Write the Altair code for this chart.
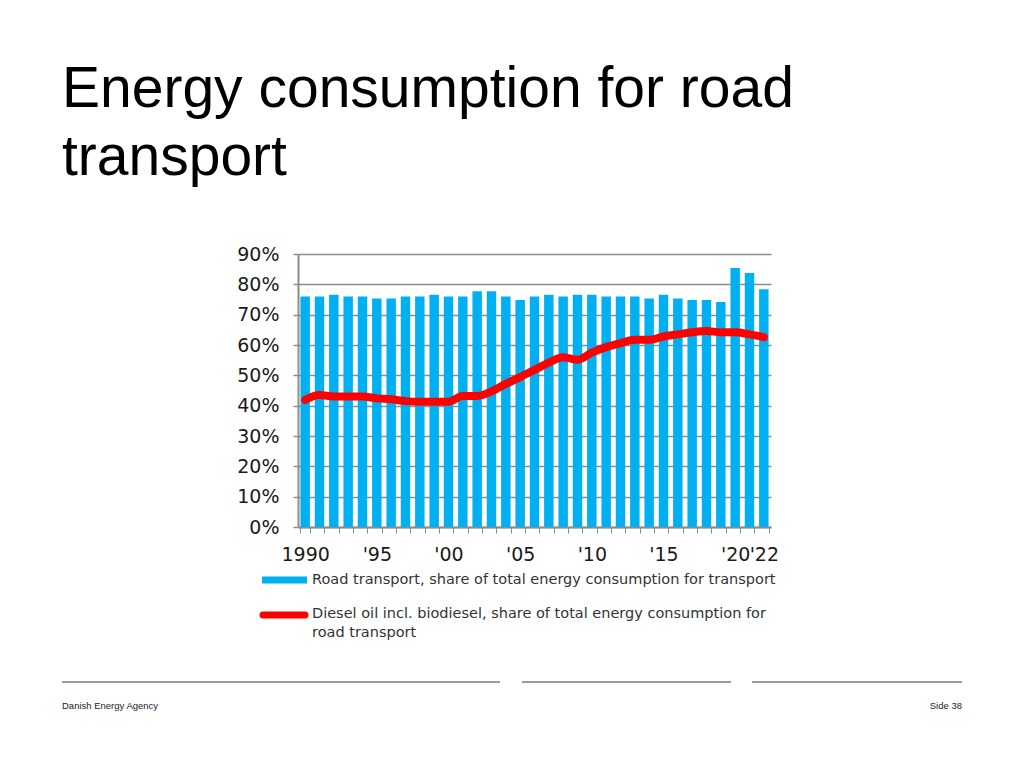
import altair as alt
import pandas as pd

# ---- data ----
years = list(range(1990, 2023))
road_share = [76.0, 76.0, 76.6, 76.0, 76.0, 75.3, 75.3, 76.0, 76.0, 76.6,
              76.0, 76.0, 77.7, 77.7, 76.0, 74.8, 76.0, 76.6, 76.0, 76.6,
              76.6, 76.0, 76.0, 76.0, 75.3, 76.6, 75.3, 74.8, 74.8, 74.2,
              85.4, 83.7, 78.4]
diesel_share = [41.9, 43.5, 43.0, 43.0, 43.0, 42.4, 42.1, 41.5, 41.3, 41.3,
                41.3, 43.2, 43.2, 44.7, 47.2, 49.4, 51.8, 54.2, 56.0, 55.1,
                57.5, 59.3, 60.6, 61.7, 61.7, 62.8, 63.5, 64.2, 64.6, 64.2,
                64.2, 63.5, 62.6]
label_years = [1990, 1995, 2000, 2005, 2010, 2015, 2020, 2022]
label_texts = ["1990", "'95", "'00", "'05", "'10", "'15", "'20", "'22"]
y_ticks = [0, 10, 20, 30, 40, 50, 60, 70, 80, 90]

title_lines = ["Energy consumption for road", "transport"]
legend_bar_label = ["Road transport, share of total energy consumption for transport"]
legend_line_label = ["Diesel oil incl. biodiesel, share of total energy consumption for",
                     "road transport"]
footer_left = ["Danish Energy Agency"]
footer_right = ["Side 38"]

BLUE = "#00b0f0"
RED = "#ff0000"
GRAY = "#8c8c8c"
TXT = "#1a1a1a"
FONT = "DejaVu Sans"

df = pd.DataFrame({
    "year": years,
    "road": [v / 100 for v in road_share],
    "diesel": [v / 100 for v in diesel_share],
})

# label expression built from the tick label lists
pairs = " : ".join(
    f"datum.value == {y} ? \"{t}\"" for y, t in zip(label_years, label_texts)
) + " : ''"

x_enc = alt.X(
    "year:O",
    scale=alt.Scale(paddingInner=0.34, paddingOuter=0.17),
    axis=alt.Axis(
        title=None, labelExpr=pairs, labelAngle=0, labelOverlap=False,
        tickBand="extent", tickSize=6, tickColor=GRAY, tickWidth=1,
        domainColor=GRAY, domainWidth=2, labelFont=FONT, labelFontSize=19,
        labelColor=TXT, labelPadding=12, grid=False,
    ),
)

y_axis = alt.Axis(
    title=None, values=[v / 100 for v in y_ticks], format=".0%",
    labelOverlap=False, labelBound=False,
    grid=True, gridColor=GRAY, gridWidth=1.5, gridOpacity=1,
    domainColor=GRAY, domainWidth=2, tickColor=GRAY, tickSize=5,
    tickWidth=1.5, labelFont=FONT, labelFontSize=19, labelColor=TXT,
    labelPadding=14,
)
y_scale = alt.Scale(domain=[0, 0.9], nice=False)

base = alt.Chart(df)
bars = base.mark_bar(color=BLUE).encode(
    x=x_enc, y=alt.Y("road:Q", scale=y_scale, axis=y_axis))
line = base.mark_line(
    color=RED, strokeWidth=8, interpolate="monotone",
    strokeCap="round", strokeJoin="round",
).encode(x=x_enc, y=alt.Y("diesel:Q", scale=y_scale, axis=y_axis))

# ---- legend (drawn by hand below the axis) ----
one = pd.DataFrame({"t": [""]})
LFS = 14.5
leg_bar_sw = alt.Chart(one).mark_rule(color=BLUE, strokeWidth=7, strokeCap="butt").encode(
    x=alt.value(-36), x2=alt.value(9), y=alt.value(326))
leg_line_sw = alt.Chart(one).mark_rule(color=RED, strokeWidth=7, strokeCap="round").encode(
    x=alt.value(-35), x2=alt.value(7), y=alt.value(361))
leg_txt1 = alt.Chart(pd.DataFrame({"t": legend_bar_label})).mark_text(
    align="left", baseline="middle", font=FONT, fontSize=LFS, color="#333333").encode(
    x=alt.value(14), y=alt.value(326), text="t:N")
leg_txt2 = alt.Chart(pd.DataFrame({"t": [legend_line_label[0]]})).mark_text(
    align="left", baseline="middle", font=FONT, fontSize=LFS, color="#333333").encode(
    x=alt.value(14), y=alt.value(360), text="t:N")
leg_txt3 = alt.Chart(pd.DataFrame({"t": [legend_line_label[1]]})).mark_text(
    align="left", baseline="middle", font=FONT, fontSize=LFS, color="#333333").encode(
    x=alt.value(14), y=alt.value(379), text="t:N")

# ---- footer ----
def frule(x1, x2):
    return alt.Chart(one).mark_rule(color="#9a9a9a", strokeWidth=2).encode(
        x=alt.value(x1), x2=alt.value(x2), y=alt.value(428))

foot_l = alt.Chart(pd.DataFrame({"t": footer_left})).mark_text(
    align="left", baseline="middle", font="Liberation Sans", fontSize=9.5, color="#222222").encode(
    x=alt.value(-236), y=alt.value(452), text="t:N")
foot_r = alt.Chart(pd.DataFrame({"t": footer_right})).mark_text(
    align="right", baseline="middle", font="Liberation Sans", fontSize=9.5, color="#222222").encode(
    x=alt.value(664), y=alt.value(452), text="t:N")

chart = alt.layer(
    bars, line,
    leg_bar_sw, leg_line_sw, leg_txt1, leg_txt2, leg_txt3,
    frule(-236, 202), frule(224, 433), frule(454, 664),
    foot_l, foot_r,
).properties(
    width=473, height=273,
    title=alt.TitleParams(
        text=title_lines, anchor="start", frame="group", dx=-236,
        font="Liberation Sans", fontSize=57, fontWeight="normal",
        lineHeight=68, color="#000000", offset=58,
    ),
    autosize=alt.AutoSizeParams(type="none"),
    padding={"left": 290, "top": 246, "right": 245, "bottom": 233},
).configure_view(stroke=None)

chart.save("out.html", embed_options={"renderer": "svg", "actions": False})
